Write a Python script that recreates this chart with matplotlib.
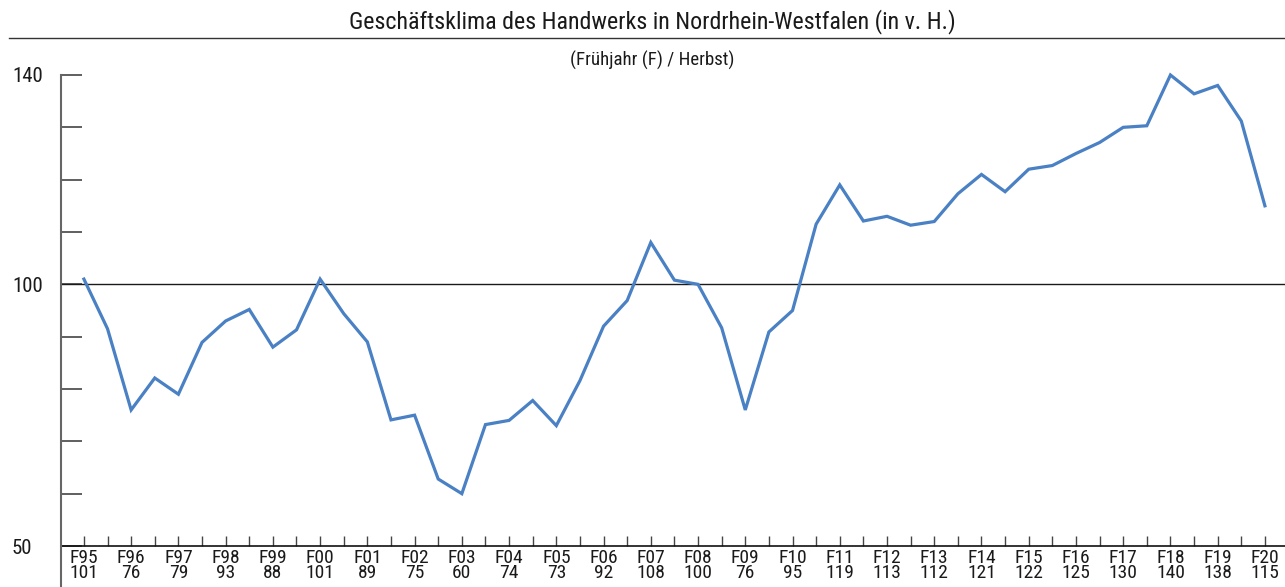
import matplotlib
matplotlib.use("Agg")
import matplotlib.pyplot as plt
from matplotlib.lines import Line2D
from matplotlib import font_manager

# pick a condensed sans font if one is installed
cands = []
for f in font_manager.fontManager.ttflist:
    if f.stretch in ('condensed', 'semi-condensed', 'extra-condensed') or 'Narrow' in f.name or 'Condensed' in f.name:
        cands.append((f.name, f.stretch, f.fname))
pref = None
for key in ['Liberation Sans Narrow', 'Roboto Condensed', 'Open Sans Condensed', 'Noto Sans', 'DejaVu Sans']:
    for n, s, fn in cands:
        if n == key and 'Bold' not in fn and 'Italic' not in fn and 'Oblique' not in fn:
            pref = (n, s, fn)
            break
    if pref:
        break

if pref:
    plt.rcParams['font.family'] = [pref[0], 'DejaVu Sans']
    plt.rcParams['font.stretch'] = pref[1]
else:
    plt.rcParams['font.family'] = ['DejaVu Sans']

# Data: spring (F) and autumn values, 1995 spring .. 2020 spring
values = [101, 91.5, 76, 82.1, 79, 88.9, 93, 95.2, 88, 91.3,
          101, 94.4, 89, 74.1, 75, 62.8, 60, 73.2, 74, 77.8,
          73, 81.6, 92, 96.9, 108, 100.8, 100, 91.7, 76, 90.9,
          95, 111.5, 119, 112.1, 113, 111.3, 112, 117.3, 121, 117.7,
          122, 122.7, 125, 127.1, 130, 130.3, 140, 136.4, 138, 131.2,
          115]
years = ["95", "96", "97", "98", "99", "00", "01", "02", "03", "04", "05", "06", "07",
         "08", "09", "10", "11", "12", "13", "14", "15", "16", "17", "18", "19", "20"]
yticks = [50, 60, 70, 80, 90, 100, 110, 120, 130, 140]
ylabels_shown = {50: "50", 100: "100", 140: "140"}

W, H = 1285, 587
fig = plt.figure(figsize=(W / 100, H / 100), dpi=100)

def fx(px):
    return px / W

def fy(py):
    return 1 - py / H

ax = fig.add_axes([fx(61), fy(546), fx(1285) - fx(61), fy(75) - fy(546)])

x = list(range(len(values)))
ax.plot(x, values, color='#4a80c4', lw=2.3, clip_on=False, solid_joinstyle='miter', zorder=3)
ax.axhline(100, color='#1a1a1a', lw=1.0, zorder=2)

ax.set_xlim(-0.97, 50.85)
ax.set_ylim(50, 140)

for s in ['top', 'right', 'left']:
    ax.spines[s].set_visible(False)
ax.spines['bottom'].set_color('#111111')
ax.spines['bottom'].set_linewidth(1.2)

ax.set_yticks(yticks)
ax.set_yticklabels([ylabels_shown.get(t, "") for t in yticks])
ax.tick_params(axis='y', direction='in', length=15, width=1.2, color='#444444',
               pad=35.3, labelsize=15, labelcolor='#1a1a1a')
for lab in ax.get_yticklabels():
    lab.set_horizontalalignment('left')

ax.set_xticks(x)
xlabels = []
for i in x:
    if i % 2 == 0:
        xlabels.append(f"F{years[i // 2]}\n{values[i]:.0f}")
    else:
        xlabels.append("")
ax.set_xticklabels(xlabels, linespacing=0.82)
ax.tick_params(axis='x', direction='in', length=7.5, width=1.0, color='#444444',
               pad=2, labelsize=14, labelcolor='#1a1a1a')

# left vertical axis line extending below
fig.add_artist(Line2D([fx(61), fx(61)], [fy(75), fy(587)], color='#666666', lw=1.5))
# title underline
fig.add_artist(Line2D([fx(9), fx(1285)], [fy(38), fy(38)], color='#333333', lw=1.0))

fig.text(fx(652), fy(22), "Geschäftsklima des Handwerks in Nordrhein-Westfalen (in v. H.)",
         ha='center', va='center', fontsize=17.3, color='#1a1a1a')
fig.text(fx(652), fy(60), "(Frühjahr (F) / Herbst)", ha='center', va='center',
         fontsize=13.6, color='#1a1a1a')

fig.savefig("out.png", dpi=100)
